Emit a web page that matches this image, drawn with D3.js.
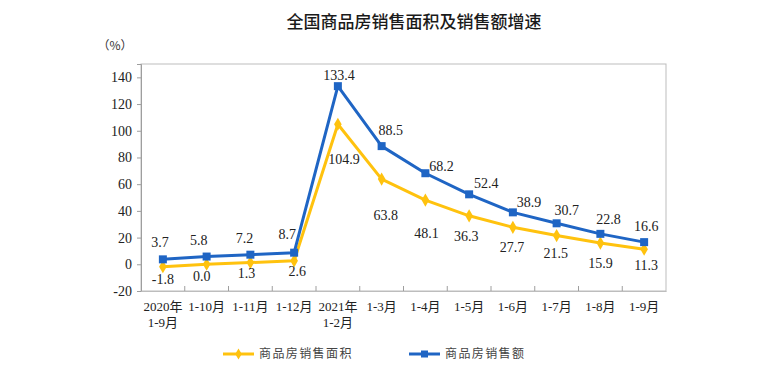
<!DOCTYPE html>
<html><head><meta charset="utf-8">
<script src="https://cdn.jsdelivr.net/npm/d3@7"></script>
<style>
body{margin:0;background:#fff;}
svg{display:block;}
</style></head>
<body>
<svg id="chart" width="770" height="391"></svg>
<script>
const title = "全国商品房销售面积及销售额增速";
const unitLabel = "（%）";
const categories = [["2020年","1-9月"],["1-10月"],["1-11月"],["1-12月"],["2021年","1-2月"],["1-3月"],["1-4月"],["1-5月"],["1-6月"],["1-7月"],["1-8月"],["1-9月"]];
const seriesNames = ["商品房销售面积","商品房销售额"];
const areaGrowth = [-1.8,0.0,1.3,2.6,104.9,63.8,48.1,36.3,27.7,21.5,15.9,11.3];
const salesGrowth = [3.7,5.8,7.2,8.7,133.4,88.5,68.2,52.4,38.9,30.7,22.8,16.6];
const yTicks = [-20,0,20,40,60,80,100,120,140];

// label placement (pixel offsets from each point)
const areaLabelDx = [0,-5,-4,3,6,4,1,-3,-1,-1,0,2];
const areaLabelDy = [12,12,11,10,35,36,33,20,20,18,20,16];
const salesLabelDx = [-3,-8,-6,-7,1,9,16,17,16,10,8,2];
const salesLabelDy = [-17,-16,-17,-19,-11,-16,-7,-11,-10,-13,-15,-16];

const svg = d3.select("#chart");
const pL = 141, pR = 666, pT = 64, pB = 291;
const x = d3.scaleBand().domain(d3.range(categories.length)).range([pL,pR]).padding(0);
const y = d3.scaleLinear().domain([-20,150]).range([pB,pT]);
const cx = i => x(i) + x.bandwidth()/2;

const yellow = "#FFC20E", blue = "#1F65C4";
const serif = "'Liberation Serif','Times New Roman','Noto Sans CJK SC',serif";
const hyph = s => s.replace("\u2212","-");

svg.append("text").attr("x",414).attr("y",28).attr("text-anchor","middle")
  .attr("font-family","'Noto Sans CJK SC',sans-serif").attr("font-size",17).attr("font-weight",500)
  .attr("fill","#1a1a1a").text(title);

svg.append("text").attr("x",115).attr("y",50).attr("text-anchor","middle")
  .attr("font-family","'Noto Sans CJK SC',sans-serif").attr("font-size",12).attr("fill","#333").text(unitLabel);

// plot frame
svg.append("rect").attr("x",pL).attr("y",pT).attr("width",pR-pL).attr("height",pB-pT)
  .attr("fill","none").attr("stroke","#bdbdbd").attr("stroke-width",1);

// y axis
const yAxis = svg.append("g").attr("transform",`translate(${pL},0)`)
  .call(d3.axisLeft(y).tickValues(yTicks).tickSize(4).tickPadding(5).tickFormat(d=>hyph(d3.format("d")(d))));
yAxis.select(".domain").attr("stroke","#9e9e9e");
yAxis.selectAll(".tick line").attr("stroke","#9e9e9e");
yAxis.selectAll("text").attr("font-family",serif).attr("font-size",14).attr("fill","#222");

// x axis ticks (inward at band boundaries)
const xAxis = svg.append("g").attr("transform",`translate(0,${pB})`)
  .call(d3.axisBottom(x).tickSize(0).tickFormat(""));
xAxis.select(".domain").attr("stroke","#bdbdbd");
xAxis.selectAll(".tick line").remove();
xAxis.selectAll(".bnd").data(d3.range(1,categories.length)).join("line").attr("class","bnd")
  .attr("x1",i=>x(i)).attr("x2",i=>x(i)).attr("y1",0).attr("y2",-5).attr("stroke","#9e9e9e");
const xl = xAxis.selectAll(".xl").data(categories).join("text").attr("class","xl")
  .attr("text-anchor","middle").attr("font-family",serif).attr("font-size",13).attr("fill","#222")
  .attr("transform",(d,i)=>`translate(${cx(i)},20)`);
xl.selectAll("tspan").data(d=>d).join("tspan").attr("x",0).attr("dy",(d,j)=>j===0?0:16).text(d=>d);

// lines
const line = d3.line().x((d,i)=>cx(i)).y(d=>y(d));
svg.append("path").datum(areaGrowth).attr("d",line).attr("fill","none").attr("stroke",yellow).attr("stroke-width",3).attr("stroke-linejoin","round");
svg.append("path").datum(salesGrowth).attr("d",line).attr("fill","none").attr("stroke",blue).attr("stroke-width",3).attr("stroke-linejoin","round");

const diamond = d3.symbol().type(d3.symbolDiamond).size(50);
svg.selectAll(".am").data(areaGrowth).join("path").attr("class","am")
  .attr("d",diamond).attr("transform",(d,i)=>`translate(${cx(i)},${y(d)})`).attr("fill",yellow);
svg.selectAll(".sm").data(salesGrowth).join("rect").attr("class","sm")
  .attr("x",(d,i)=>cx(i)-4).attr("y",d=>y(d)-4).attr("width",8).attr("height",8).attr("fill",blue);

// value labels
const fmt = d => hyph(d3.format(".1f")(d));
svg.selectAll(".al").data(areaGrowth).join("text").attr("class","al")
  .attr("x",(d,i)=>cx(i)+areaLabelDx[i]).attr("y",(d,i)=>y(d)+areaLabelDy[i]).attr("dy","0.35em")
  .attr("text-anchor","middle").attr("font-family",serif).attr("font-size",14).attr("fill","#222").text(d=>fmt(d));
svg.selectAll(".sl").data(salesGrowth).join("text").attr("class","sl")
  .attr("x",(d,i)=>cx(i)+salesLabelDx[i]).attr("y",(d,i)=>y(d)+salesLabelDy[i]).attr("dy","0.35em")
  .attr("text-anchor","middle").attr("font-family",serif).attr("font-size",14).attr("fill","#222").text(d=>fmt(d));

// legend
const legend = [{name:seriesNames[0],color:yellow,x0:223,sym:"d"},{name:seriesNames[1],color:blue,x0:409,sym:"s"}];
const lg = svg.selectAll(".lg").data(legend).join("g").attr("class","lg").attr("transform",d=>`translate(${d.x0},354)`);
lg.append("line").attr("x1",0).attr("x2",31).attr("stroke",d=>d.color).attr("stroke-width",3);
lg.filter(d=>d.sym==="d").append("path").attr("d",d3.symbol().type(d3.symbolDiamond).size(36)).attr("transform","translate(15.5,0)").attr("fill",yellow);
lg.filter(d=>d.sym==="s").append("rect").attr("x",12).attr("y",-3.5).attr("width",7).attr("height",7).attr("fill",blue);
lg.append("text").attr("x",36).attr("dy","0.35em").attr("font-family","'Noto Sans CJK SC',sans-serif")
  .attr("font-size",12).attr("letter-spacing",1.4).attr("fill","#444").text(d=>d.name);
</script>
</body></html>
